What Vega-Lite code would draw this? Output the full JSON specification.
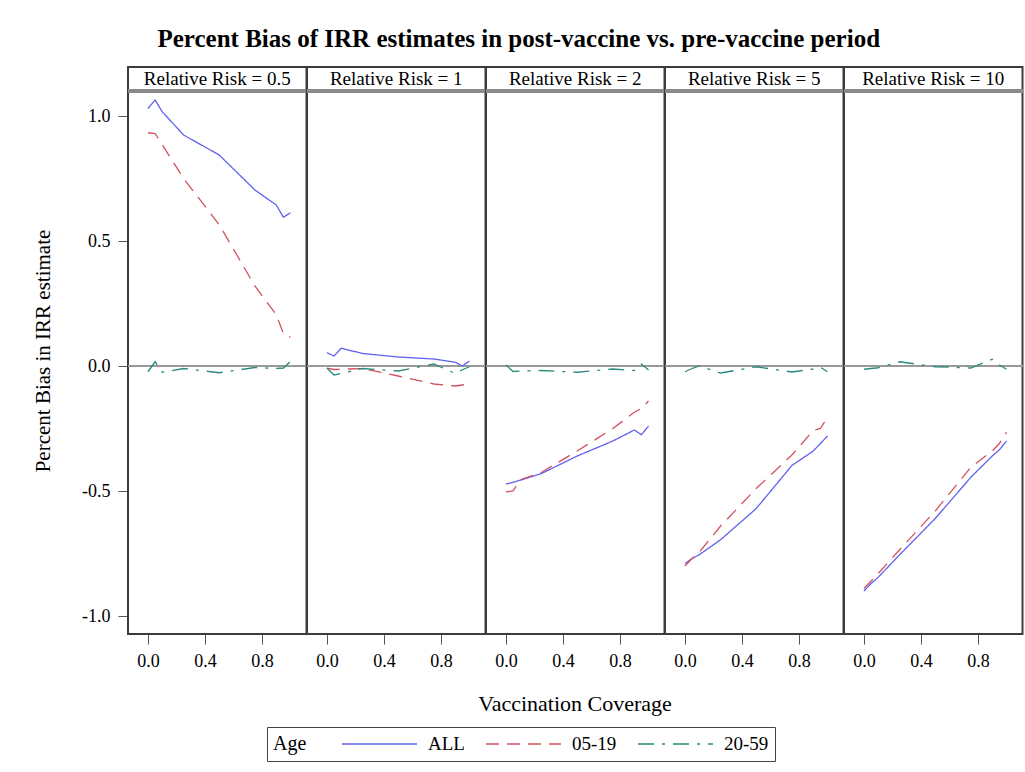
{
  "$schema": "https://vega.github.io/schema/vega-lite/v6.json",
  "padding": {"left": 32, "top": 27, "right": 2, "bottom": 10},
  "background": "white",
  "bounds": "flush",
  "title": {
    "text": "Percent Bias of IRR estimates in post-vaccine vs. pre-vaccine period",
    "font": "Liberation Serif", "fontSize": 25, "fontWeight": "bold", "color": "black",
    "anchor": "middle", "frame": "bounds", "offset": 14, "dx": -10
  },
  "data": {"values": [
    {"panel": "Relative Risk = 0.5", "age": "ALL", "x": 0, "y": 1.03},
    {"panel": "Relative Risk = 0.5", "age": "ALL", "x": 0.05, "y": 1.064},
    {"panel": "Relative Risk = 0.5", "age": "ALL", "x": 0.1, "y": 1.017},
    {"panel": "Relative Risk = 0.5", "age": "ALL", "x": 0.25, "y": 0.924},
    {"panel": "Relative Risk = 0.5", "age": "ALL", "x": 0.5, "y": 0.844},
    {"panel": "Relative Risk = 0.5", "age": "ALL", "x": 0.75, "y": 0.704},
    {"panel": "Relative Risk = 0.5", "age": "ALL", "x": 0.9, "y": 0.644},
    {"panel": "Relative Risk = 0.5", "age": "ALL", "x": 0.95, "y": 0.595},
    {"panel": "Relative Risk = 0.5", "age": "ALL", "x": 1.0, "y": 0.613},
    {"panel": "Relative Risk = 0.5", "age": "05-19", "x": 0, "y": 0.933},
    {"panel": "Relative Risk = 0.5", "age": "05-19", "x": 0.05, "y": 0.93},
    {"panel": "Relative Risk = 0.5", "age": "05-19", "x": 0.1, "y": 0.885},
    {"panel": "Relative Risk = 0.5", "age": "05-19", "x": 0.25, "y": 0.75},
    {"panel": "Relative Risk = 0.5", "age": "05-19", "x": 0.5, "y": 0.565},
    {"panel": "Relative Risk = 0.5", "age": "05-19", "x": 0.75, "y": 0.32},
    {"panel": "Relative Risk = 0.5", "age": "05-19", "x": 0.9, "y": 0.205},
    {"panel": "Relative Risk = 0.5", "age": "05-19", "x": 0.95, "y": 0.13},
    {"panel": "Relative Risk = 0.5", "age": "05-19", "x": 1.0, "y": 0.115},
    {"panel": "Relative Risk = 0.5", "age": "20-59", "x": 0, "y": -0.023},
    {"panel": "Relative Risk = 0.5", "age": "20-59", "x": 0.05, "y": 0.017},
    {"panel": "Relative Risk = 0.5", "age": "20-59", "x": 0.1, "y": -0.025},
    {"panel": "Relative Risk = 0.5", "age": "20-59", "x": 0.25, "y": -0.01},
    {"panel": "Relative Risk = 0.5", "age": "20-59", "x": 0.5, "y": -0.027},
    {"panel": "Relative Risk = 0.5", "age": "20-59", "x": 0.75, "y": -0.006},
    {"panel": "Relative Risk = 0.5", "age": "20-59", "x": 0.9, "y": -0.01},
    {"panel": "Relative Risk = 0.5", "age": "20-59", "x": 0.95, "y": -0.008},
    {"panel": "Relative Risk = 0.5", "age": "20-59", "x": 1.0, "y": 0.018},

    {"panel": "Relative Risk = 1", "age": "ALL", "x": 0, "y": 0.053},
    {"panel": "Relative Risk = 1", "age": "ALL", "x": 0.05, "y": 0.04},
    {"panel": "Relative Risk = 1", "age": "ALL", "x": 0.1, "y": 0.071},
    {"panel": "Relative Risk = 1", "age": "ALL", "x": 0.25, "y": 0.05},
    {"panel": "Relative Risk = 1", "age": "ALL", "x": 0.5, "y": 0.036},
    {"panel": "Relative Risk = 1", "age": "ALL", "x": 0.75, "y": 0.028},
    {"panel": "Relative Risk = 1", "age": "ALL", "x": 0.9, "y": 0.015},
    {"panel": "Relative Risk = 1", "age": "ALL", "x": 0.95, "y": 0.0},
    {"panel": "Relative Risk = 1", "age": "ALL", "x": 1.0, "y": 0.02},
    {"panel": "Relative Risk = 1", "age": "05-19", "x": 0, "y": -0.009},
    {"panel": "Relative Risk = 1", "age": "05-19", "x": 0.05, "y": -0.014},
    {"panel": "Relative Risk = 1", "age": "05-19", "x": 0.1, "y": -0.013},
    {"panel": "Relative Risk = 1", "age": "05-19", "x": 0.25, "y": -0.01},
    {"panel": "Relative Risk = 1", "age": "05-19", "x": 0.5, "y": -0.04},
    {"panel": "Relative Risk = 1", "age": "05-19", "x": 0.75, "y": -0.072},
    {"panel": "Relative Risk = 1", "age": "05-19", "x": 0.9, "y": -0.08},
    {"panel": "Relative Risk = 1", "age": "05-19", "x": 0.95, "y": -0.076},
    {"panel": "Relative Risk = 1", "age": "05-19", "x": 1.0, "y": -0.063},
    {"panel": "Relative Risk = 1", "age": "20-59", "x": 0, "y": -0.009},
    {"panel": "Relative Risk = 1", "age": "20-59", "x": 0.05, "y": -0.036},
    {"panel": "Relative Risk = 1", "age": "20-59", "x": 0.1, "y": -0.03},
    {"panel": "Relative Risk = 1", "age": "20-59", "x": 0.25, "y": -0.01},
    {"panel": "Relative Risk = 1", "age": "20-59", "x": 0.5, "y": -0.02},
    {"panel": "Relative Risk = 1", "age": "20-59", "x": 0.75, "y": 0.008},
    {"panel": "Relative Risk = 1", "age": "20-59", "x": 0.9, "y": -0.03},
    {"panel": "Relative Risk = 1", "age": "20-59", "x": 0.95, "y": -0.015},
    {"panel": "Relative Risk = 1", "age": "20-59", "x": 1.0, "y": -0.003},

    {"panel": "Relative Risk = 2", "age": "ALL", "x": 0, "y": -0.472},
    {"panel": "Relative Risk = 2", "age": "ALL", "x": 0.05, "y": -0.465},
    {"panel": "Relative Risk = 2", "age": "ALL", "x": 0.1, "y": -0.457},
    {"panel": "Relative Risk = 2", "age": "ALL", "x": 0.25, "y": -0.43},
    {"panel": "Relative Risk = 2", "age": "ALL", "x": 0.5, "y": -0.36},
    {"panel": "Relative Risk = 2", "age": "ALL", "x": 0.75, "y": -0.3},
    {"panel": "Relative Risk = 2", "age": "ALL", "x": 0.9, "y": -0.256},
    {"panel": "Relative Risk = 2", "age": "ALL", "x": 0.95, "y": -0.275},
    {"panel": "Relative Risk = 2", "age": "ALL", "x": 1.0, "y": -0.24},
    {"panel": "Relative Risk = 2", "age": "05-19", "x": 0, "y": -0.503},
    {"panel": "Relative Risk = 2", "age": "05-19", "x": 0.05, "y": -0.5},
    {"panel": "Relative Risk = 2", "age": "05-19", "x": 0.1, "y": -0.455},
    {"panel": "Relative Risk = 2", "age": "05-19", "x": 0.25, "y": -0.425},
    {"panel": "Relative Risk = 2", "age": "05-19", "x": 0.5, "y": -0.34},
    {"panel": "Relative Risk = 2", "age": "05-19", "x": 0.75, "y": -0.25},
    {"panel": "Relative Risk = 2", "age": "05-19", "x": 0.9, "y": -0.185},
    {"panel": "Relative Risk = 2", "age": "05-19", "x": 0.95, "y": -0.17},
    {"panel": "Relative Risk = 2", "age": "05-19", "x": 1.0, "y": -0.14},
    {"panel": "Relative Risk = 2", "age": "20-59", "x": 0, "y": 0.004},
    {"panel": "Relative Risk = 2", "age": "20-59", "x": 0.05, "y": -0.022},
    {"panel": "Relative Risk = 2", "age": "20-59", "x": 0.1, "y": -0.02},
    {"panel": "Relative Risk = 2", "age": "20-59", "x": 0.25, "y": -0.018},
    {"panel": "Relative Risk = 2", "age": "20-59", "x": 0.5, "y": -0.025},
    {"panel": "Relative Risk = 2", "age": "20-59", "x": 0.75, "y": -0.012},
    {"panel": "Relative Risk = 2", "age": "20-59", "x": 0.9, "y": -0.018},
    {"panel": "Relative Risk = 2", "age": "20-59", "x": 0.95, "y": 0.008},
    {"panel": "Relative Risk = 2", "age": "20-59", "x": 1.0, "y": -0.016},

    {"panel": "Relative Risk = 5", "age": "ALL", "x": 0, "y": -0.79},
    {"panel": "Relative Risk = 5", "age": "ALL", "x": 0.05, "y": -0.77},
    {"panel": "Relative Risk = 5", "age": "ALL", "x": 0.1, "y": -0.755},
    {"panel": "Relative Risk = 5", "age": "ALL", "x": 0.25, "y": -0.695},
    {"panel": "Relative Risk = 5", "age": "ALL", "x": 0.5, "y": -0.57},
    {"panel": "Relative Risk = 5", "age": "ALL", "x": 0.75, "y": -0.398},
    {"panel": "Relative Risk = 5", "age": "ALL", "x": 0.9, "y": -0.34},
    {"panel": "Relative Risk = 5", "age": "ALL", "x": 0.95, "y": -0.31},
    {"panel": "Relative Risk = 5", "age": "ALL", "x": 1.0, "y": -0.28},
    {"panel": "Relative Risk = 5", "age": "05-19", "x": 0, "y": -0.8},
    {"panel": "Relative Risk = 5", "age": "05-19", "x": 0.05, "y": -0.77},
    {"panel": "Relative Risk = 5", "age": "05-19", "x": 0.1, "y": -0.745},
    {"panel": "Relative Risk = 5", "age": "05-19", "x": 0.25, "y": -0.64},
    {"panel": "Relative Risk = 5", "age": "05-19", "x": 0.5, "y": -0.49},
    {"panel": "Relative Risk = 5", "age": "05-19", "x": 0.75, "y": -0.356},
    {"panel": "Relative Risk = 5", "age": "05-19", "x": 0.9, "y": -0.258},
    {"panel": "Relative Risk = 5", "age": "05-19", "x": 0.95, "y": -0.25},
    {"panel": "Relative Risk = 5", "age": "05-19", "x": 1.0, "y": -0.205},
    {"panel": "Relative Risk = 5", "age": "20-59", "x": 0, "y": -0.023},
    {"panel": "Relative Risk = 5", "age": "20-59", "x": 0.05, "y": -0.01},
    {"panel": "Relative Risk = 5", "age": "20-59", "x": 0.1, "y": 0.0},
    {"panel": "Relative Risk = 5", "age": "20-59", "x": 0.25, "y": -0.028},
    {"panel": "Relative Risk = 5", "age": "20-59", "x": 0.5, "y": -0.003},
    {"panel": "Relative Risk = 5", "age": "20-59", "x": 0.75, "y": -0.024},
    {"panel": "Relative Risk = 5", "age": "20-59", "x": 0.9, "y": -0.012},
    {"panel": "Relative Risk = 5", "age": "20-59", "x": 0.95, "y": -0.005},
    {"panel": "Relative Risk = 5", "age": "20-59", "x": 1.0, "y": -0.023},

    {"panel": "Relative Risk = 10", "age": "ALL", "x": 0, "y": -0.9},
    {"panel": "Relative Risk = 10", "age": "ALL", "x": 0.05, "y": -0.87},
    {"panel": "Relative Risk = 10", "age": "ALL", "x": 0.1, "y": -0.845},
    {"panel": "Relative Risk = 10", "age": "ALL", "x": 0.25, "y": -0.755},
    {"panel": "Relative Risk = 10", "age": "ALL", "x": 0.5, "y": -0.61},
    {"panel": "Relative Risk = 10", "age": "ALL", "x": 0.75, "y": -0.445},
    {"panel": "Relative Risk = 10", "age": "ALL", "x": 0.9, "y": -0.36},
    {"panel": "Relative Risk = 10", "age": "ALL", "x": 0.95, "y": -0.335},
    {"panel": "Relative Risk = 10", "age": "ALL", "x": 1.0, "y": -0.3},
    {"panel": "Relative Risk = 10", "age": "05-19", "x": 0, "y": -0.89},
    {"panel": "Relative Risk = 10", "age": "05-19", "x": 0.05, "y": -0.86},
    {"panel": "Relative Risk = 10", "age": "05-19", "x": 0.1, "y": -0.83},
    {"panel": "Relative Risk = 10", "age": "05-19", "x": 0.25, "y": -0.735},
    {"panel": "Relative Risk = 10", "age": "05-19", "x": 0.5, "y": -0.58},
    {"panel": "Relative Risk = 10", "age": "05-19", "x": 0.75, "y": -0.405},
    {"panel": "Relative Risk = 10", "age": "05-19", "x": 0.9, "y": -0.34},
    {"panel": "Relative Risk = 10", "age": "05-19", "x": 0.95, "y": -0.31},
    {"panel": "Relative Risk = 10", "age": "05-19", "x": 1.0, "y": -0.265},
    {"panel": "Relative Risk = 10", "age": "20-59", "x": 0, "y": -0.013},
    {"panel": "Relative Risk = 10", "age": "20-59", "x": 0.05, "y": -0.01},
    {"panel": "Relative Risk = 10", "age": "20-59", "x": 0.1, "y": -0.007},
    {"panel": "Relative Risk = 10", "age": "20-59", "x": 0.25, "y": 0.017},
    {"panel": "Relative Risk = 10", "age": "20-59", "x": 0.5, "y": -0.003},
    {"panel": "Relative Risk = 10", "age": "20-59", "x": 0.75, "y": -0.008},
    {"panel": "Relative Risk = 10", "age": "20-59", "x": 0.9, "y": 0.027},
    {"panel": "Relative Risk = 10", "age": "20-59", "x": 0.95, "y": 0.004},
    {"panel": "Relative Risk = 10", "age": "20-59", "x": 1.0, "y": -0.013}
  ]},
  "facet": {
    "column": {
      "field": "panel", "type": "nominal",
      "sort": ["Relative Risk = 0.5", "Relative Risk = 1", "Relative Risk = 2", "Relative Risk = 5", "Relative Risk = 10"],
      "header": {
        "title": "Vaccination Coverage", "titleOrient": "bottom", "labels": false,
        "titleFont": "Liberation Serif", "titleFontSize": 22, "titleFontWeight": "normal",
        "titleColor": "black", "titlePadding": 14
      }
    }
  },
  "spacing": 0,
  "spec": {
    "width": 178.5,
    "height": 567,
    "encoding": {
      "x": {"field": "x", "type": "quantitative", "scale": {"domain": [-0.14, 1.112], "nice": false, "zero": false},
        "axis": {"title": null, "values": [0, 0.4, 0.8], "format": ".1f", "grid": false, "domain": false,
          "tickSize": 10, "tickColor": "#555", "labelPadding": 8, "labelFont": "Liberation Serif", "labelFontSize": 18, "labelColor": "black"}},
      "y": {"field": "y", "type": "quantitative", "scale": {"domain": [-1.072, 1.196], "nice": false, "zero": false},
        "axis": {"title": "Percent Bias in IRR estimate", "values": [-1, -0.5, 0, 0.5, 1], "format": ".1f",
          "labelExpr": "replace(datum.label, '\u2212', '-')", "grid": false, "domain": false,
          "tickSize": 10, "tickColor": "#555", "labelPadding": 8, "labelFont": "Liberation Serif", "labelFontSize": 18, "labelColor": "black",
          "titleFont": "Liberation Serif", "titleFontSize": 21, "titleFontWeight": "normal", "titleColor": "black", "titlePadding": 28}}
    },
    "layer": [
      {"mark": {"type": "rule", "color": "#8a8a8a", "strokeWidth": 3}, "encoding": {"x": null, "y": {"datum": 1.1}}},
      {"mark": {"type": "rule", "color": "#999999", "strokeWidth": 1}, "encoding": {"x": null, "y": {"datum": 0}}},
      {
        "mark": {"type": "line", "strokeWidth": 1.3},
        "encoding": {
          "color": {"field": "age", "type": "nominal", "sort": ["ALL", "05-19", "20-59"],
            "scale": {"domain": ["ALL", "05-19", "20-59"], "range": ["#6161f0", "#d2515e", "#2b8a7b"]},
            "legend": {"title": "Age", "orient": "none", "legendX": 139, "legendY": 660, "direction": "horizontal",
              "titleOrient": "left", "titleFont": "Liberation Serif", "titleFontSize": 20, "titleFontWeight": "normal", "titleColor": "black", "titlePadding": 34,
              "labelFont": "Liberation Serif", "labelFontSize": 19, "labelColor": "black", "labelOffset": 10, "columnPadding": 20,
              "symbolType": "stroke", "symbolSize": 5625, "symbolStrokeWidth": 1.5, "clipHeight": 22,
              "padding": 6, "strokeColor": "#444444", "fillColor": "white"}},
          "strokeDash": {"field": "age", "type": "nominal", "sort": ["ALL", "05-19", "20-59"],
            "scale": {"domain": ["ALL", "05-19", "20-59"], "range": [[1, 0], [13, 8], [16, 8, 3, 8]]},
            "legend": {"title": "Age", "orient": "none", "legendX": 139, "legendY": 660, "direction": "horizontal",
              "titleOrient": "left", "titleFont": "Liberation Serif", "titleFontSize": 20, "titleFontWeight": "normal", "titleColor": "black", "titlePadding": 34,
              "labelFont": "Liberation Serif", "labelFontSize": 19, "labelColor": "black", "labelOffset": 10, "columnPadding": 20,
              "symbolType": "stroke", "symbolSize": 5625, "symbolStrokeWidth": 1.5, "clipHeight": 22,
              "padding": 6, "strokeColor": "#444444", "fillColor": "white"}}
        }
      },
      {
        "transform": [{"filter": "datum.age === 'ALL' && datum.x === 0"}],
        "mark": {"type": "text", "font": "Liberation Serif", "fontSize": 19, "color": "black", "baseline": "middle", "align": "center"},
        "encoding": {"x": {"datum": 0.486}, "y": {"datum": 1.148}, "text": {"field": "panel"}}
      }
    ]
  },
  "config": {
    "view": {"stroke": "#3c3c3c", "strokeWidth": 2},
    "axis": {"labelFont": "Liberation Serif"}
  }
}
